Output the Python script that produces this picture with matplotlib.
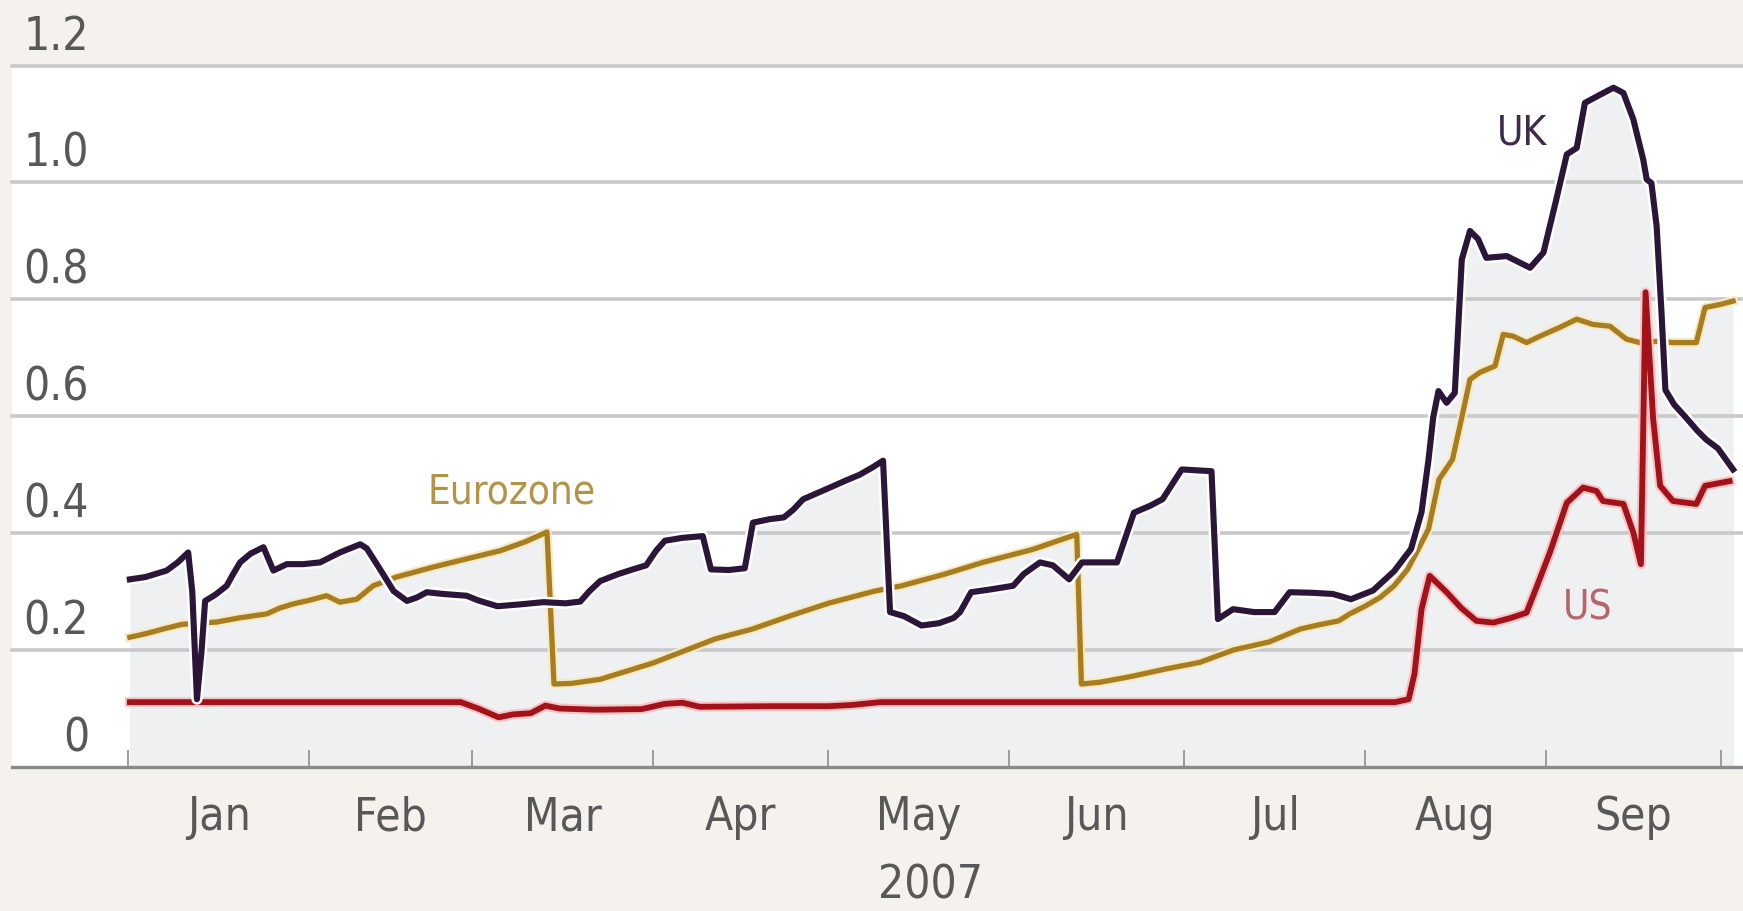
import numpy as np
import matplotlib
matplotlib.use("Agg")
import matplotlib.pyplot as plt
import matplotlib.patheffects as pe
import matplotlib.transforms as mtransforms
from matplotlib import font_manager

# Three-month interbank spread over expected policy rate, 2007 (percentage points)
# x values are days since 1 January 2007
uk_days = [0.3, 3, 6.6, 8.5, 10.3, 11.0, 11.8, 12.6, 13.2, 15, 16.9, 18, 19.2, 21, 23.2,
           24.9, 27.2, 30, 32.9, 36.3, 39.8, 40.9, 43.2, 45.5, 47.8, 49.5, 51.2, 54, 58,
           60, 63.3, 67, 71.2, 75, 77.5, 79, 80.9, 84, 86.5, 88.8, 90.5, 92, 95, 98.5,
           99.9, 103, 105.7, 107.1, 110, 112.4, 114, 115.7, 118, 120.3, 123, 125.4, 127.5,
           129.4, 130.6, 133, 136, 139, 141.5, 142.6, 144.5, 148, 151.7, 153.5, 156.3,
           158.5, 161.3, 163.5, 169.5, 172.4, 175.2, 177.3, 180.6, 185.7, 186.8, 189.4,
           193, 196.5, 199.1, 203, 206.5, 209.6, 213.4, 217, 219.9, 221.7, 222.9, 223.7,
           224.6, 226, 227.4, 228.6, 230, 231.4, 232.8, 236.3, 240.3, 242.6, 244.8, 246.6,
           248.3, 249.7, 252.3, 254.6, 256.3, 258, 259.7, 260.3, 261.1, 262, 262.8, 263.5,
           265, 267, 269, 270.5, 272.5, 275.1]
uk_vals = [0.321, 0.325, 0.336, 0.350, 0.367, 0.300, 0.116, 0.200, 0.284, 0.295, 0.310,
           0.330, 0.350, 0.365, 0.376, 0.336, 0.347, 0.347, 0.350, 0.367, 0.381, 0.374,
           0.338, 0.301, 0.284, 0.290, 0.299, 0.296, 0.293, 0.285, 0.275, 0.278, 0.282,
           0.280, 0.283, 0.300, 0.318, 0.330, 0.338, 0.345, 0.370, 0.387, 0.392, 0.395,
           0.338, 0.337, 0.340, 0.418, 0.424, 0.427, 0.440, 0.458, 0.468, 0.478, 0.490,
           0.500, 0.512, 0.524, 0.265, 0.258, 0.242, 0.246, 0.255, 0.265, 0.299, 0.304,
           0.310, 0.330, 0.350, 0.345, 0.321, 0.350, 0.350, 0.435, 0.447, 0.458, 0.509,
           0.506, 0.253, 0.270, 0.265, 0.265, 0.299, 0.298, 0.296, 0.287, 0.302, 0.335,
           0.373, 0.436, 0.526, 0.598, 0.643, 0.623, 0.640, 0.868, 0.917, 0.903, 0.871,
           0.874, 0.854, 0.880, 0.971, 1.048, 1.059, 1.136, 1.150, 1.162, 1.153, 1.108,
           1.039, 1.005, 0.999, 0.925, 0.783, 0.645, 0.620, 0.598, 0.575, 0.560, 0.545,
           0.509]

ez_days = [0.3, 3, 6, 9.2, 12, 15.2, 19, 23.8, 26, 28.3, 31, 34, 36.3, 39.2, 42, 46, 52.3,
           58, 63.8, 68, 71.8, 73.0, 76, 80.9, 90, 100.6, 107, 113.6, 120, 128, 132.6, 140,
           146.5, 155, 162.6, 163.4, 166.6, 172, 178, 183.7, 189.4, 195.6, 200.9, 204,
           207.5, 209.4, 212, 214.6, 217, 219.3, 221, 222.9, 224.7, 227, 228.6, 230, 231.7,
           234.3, 235.7, 237.4, 239.7, 242, 245.4, 248.3, 251.1, 254, 256.8, 259.1, 262,
           264.8, 268.8, 270.3, 272.8, 275.1]
ez_vals = [0.222, 0.228, 0.236, 0.244, 0.246, 0.248, 0.255, 0.262, 0.272, 0.279, 0.285,
           0.293, 0.282, 0.287, 0.310, 0.325, 0.342, 0.356, 0.370, 0.385, 0.402, 0.142,
           0.143, 0.150, 0.178, 0.219, 0.236, 0.259, 0.280, 0.301, 0.310, 0.330, 0.350,
           0.372, 0.398, 0.142, 0.145, 0.155, 0.168, 0.179, 0.200, 0.214, 0.236, 0.243,
           0.250, 0.262, 0.275, 0.290, 0.310, 0.338, 0.370, 0.407, 0.492, 0.526, 0.598,
           0.663, 0.675, 0.686, 0.740, 0.737, 0.726, 0.737, 0.752, 0.766, 0.757, 0.754,
           0.732, 0.726, 0.728, 0.726, 0.726, 0.786, 0.791, 0.797]

us_days = [0.3, 10.5, 30, 57, 60, 63.5, 66, 69, 71.5, 74, 80, 88, 92, 95, 98, 110, 120,
           124, 129, 180, 217.2, 219.5, 220.5, 221.7, 223.1, 226, 228.5, 231.1, 234, 237,
           239.7, 241.5, 243.7, 246.6, 249.4, 251.7, 252.8, 256.3, 258, 259.3, 260.1,
           261.4, 262.6, 264.8, 268.8, 270.3, 274.5]
us_vals = [0.111, 0.111, 0.111, 0.111, 0.100, 0.085, 0.090, 0.092, 0.105, 0.100, 0.098,
           0.099, 0.108, 0.110, 0.103, 0.104, 0.104, 0.106, 0.111, 0.111, 0.111, 0.116,
           0.160, 0.270, 0.327, 0.299, 0.272, 0.250, 0.247, 0.255, 0.264, 0.310, 0.367,
           0.452, 0.478, 0.472, 0.455, 0.450, 0.401, 0.347, 0.812, 0.595, 0.481, 0.455,
           0.450, 0.481, 0.489]

months = ["Jan", "Feb", "Mar", "Apr", "May", "Jun", "Jul", "Aug", "Sep"]
y_ticks = [0, 0.2, 0.4, 0.6, 0.8, 1.0, 1.2]
y_labels = ["0", "0.2", "0.4", "0.6", "0.8", "1.0", "1.2"]
year_label = "2007"

# month boundaries as day offsets from 1 Jan 2007
month_starts = (np.arange("2007-01", "2007-11", dtype="datetime64[M]").astype("datetime64[D]")
                - np.datetime64("2007-01-01")).astype(int)
month_mids = (month_starts[:-1] + month_starts[1:]) / 2

# narrow type for all labels
FP = font_manager.FontProperties(family="DejaVu Sans", stretch="condensed", size=33)
FP_SERIES = font_manager.FontProperties(family="DejaVu Sans", stretch="condensed", size=29)

BG = "#f5f2ed"
UK_C = "#2b1538"
EZ_C = "#a87d1f"
US_C = "#a3121a"
FILL_C = "#eff0f2"
GRID_C = "#c9c9c9"
TEXT_C = "#585858"

W, H = 1743, 912
fig = plt.figure(figsize=(W / 100, H / 100), dpi=100, facecolor=BG)
ax_left, ax_right, ax_top, ax_bottom = 12, 1743, 66.5, 768
ax = fig.add_axes([ax_left / W, (H - ax_bottom) / H,
                   (ax_right - ax_left) / W, (ax_bottom - ax_top) / H])
ax.set_facecolor("white")
ax.set_xlim(-19.9, 276.8)
ax.set_ylim(0, 1.2)

# shaded area under the curves
for d, v in [(ez_days, ez_vals), (us_days, us_vals), (uk_days, uk_vals)]:
    ax.fill_between(d, 0, v, color=FILL_C, lw=0, zorder=1)

# horizontal gridlines
for t in y_ticks[1:]:
    ax.axhline(t, color=GRID_C, lw=2.6, zorder=2, clip_on=False)

# series
ax.plot(ez_days, ez_vals, color=EZ_C, lw=3.8, zorder=3, solid_joinstyle="round",
        path_effects=[pe.Stroke(linewidth=6.8, foreground="#f6ebc8"), pe.Normal()])
ax.plot(us_days, us_vals, color=US_C, lw=4.2, zorder=4, solid_joinstyle="round",
        path_effects=[pe.Stroke(linewidth=7.2, foreground="#f6c4c2"), pe.Normal()])
ax.plot(uk_days, uk_vals, color=UK_C, lw=4.4, zorder=5, solid_joinstyle="round",
        path_effects=[pe.Stroke(linewidth=8.0, foreground="white"), pe.Normal()])

# axes decoration
for s in ["top", "left", "right"]:
    ax.spines[s].set_visible(False)
ax.spines["bottom"].set_color("#8a8a8a")
ax.spines["bottom"].set_linewidth(2.4)
ax.spines["bottom"].set_zorder(6)
ax.set_yticks([])
ax.set_xticks(month_starts)
ax.set_xticklabels([])
ax.tick_params(axis="x", direction="in", length=12, width=1.4, color="#9c9c9c")

tr_x = mtransforms.blended_transform_factory(ax.transData, ax.transAxes)
tr_y = mtransforms.blended_transform_factory(ax.transAxes, ax.transData)

for m, xm in zip(months, month_mids):
    ax.text(xm, -0.071, m, transform=tr_x, ha="center", va="center",
            fontproperties=FP, color=TEXT_C, clip_on=False)
ax.text(137.6, -0.168, year_label, transform=tr_x, ha="center", va="center",
        fontproperties=FP, color=TEXT_C, clip_on=False)

for t, lab in zip(y_ticks, y_labels):
    ax.text(0.0445, t + 0.05, lab, transform=tr_y, ha="right", va="center",
            fontproperties=FP, color=TEXT_C, clip_on=False, zorder=7)

# series labels
ax.text(65.8, 0.472, "Eurozone", ha="center", va="center", fontproperties=FP_SERIES,
        color="#b39446", zorder=7)
ax.text(238.9, 1.085, "UK", ha="center", va="center", fontproperties=FP_SERIES,
        color="#3d2a4d", zorder=7)
ax.text(250.2, 0.272, "US", ha="center", va="center", fontproperties=FP_SERIES,
        color="#b8646a", zorder=7)

fig.savefig("out.png", dpi=100, facecolor=BG)
